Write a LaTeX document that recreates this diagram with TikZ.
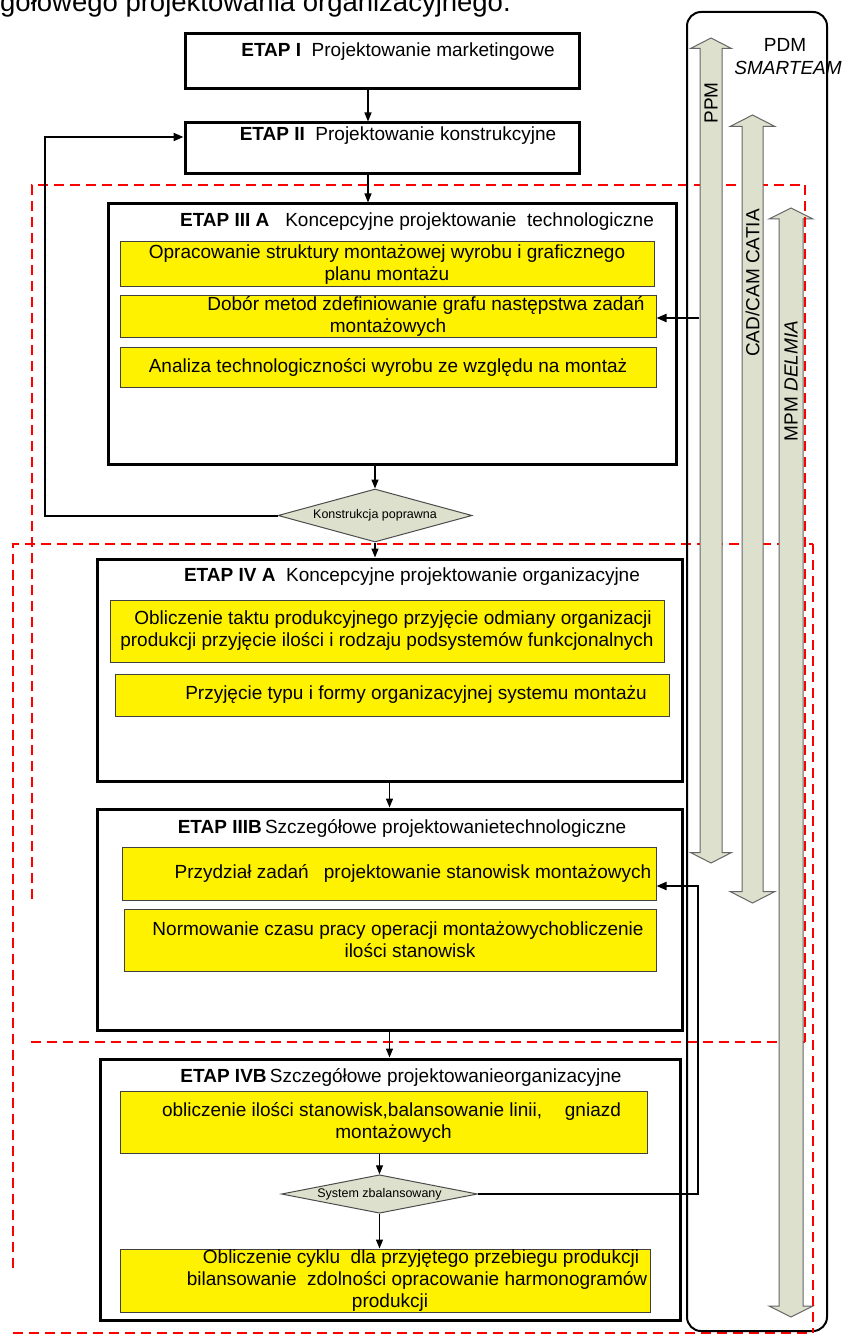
\documentclass[tikz,border=0pt]{standalone}
\usepackage{fontspec}
\setmainfont{Liberation Sans}
\usetikzlibrary{positioning,arrows.meta,shapes.geometric}
\definecolor{sage}{RGB}{221,224,204}
\newcommand{\bodyfont}{\fontsize{19}{22}\selectfont}
\newcommand{\smallfont}{\fontsize{12.5}{14}\selectfont}
\newcommand{\headfont}{\fontsize{27.5}{32}\selectfont}
\newcommand{\toolarrow}[6]{%
  \draw[toolshape] (#1,#4) -- ++(#3,#6) -- ++(#2-#3,0) -- (#1+#2,#5-#6)
    -- ++(#3-#2,0) -- (#1,#5) -- ++(-#3,-#6) -- ++(#3-#2,0)
    -- (#1-#2,#4+#6) -- ++(#2-#3,0) -- cycle;}
\tikzset{
  flowarrow/.style={-{Triangle[length=9pt,width=7pt]}, line width=1.3pt},
  loopline/.style={-{Triangle[length=10pt,width=8pt]}, line width=2pt},
  etapbox/.style={draw, line width=3pt, fill=white, inner sep=0pt},
  etaptitle/.style={font=\bodyfont, inner sep=0pt},
  taskbox/.style={draw=black!75, line width=1pt, fill=yellow, inner sep=0pt, align=center, font=\bodyfont},
  decisionnode/.style={diamond, draw=black!70, line width=1pt, fill=sage, inner sep=1pt, font=\smallfont},
  stagefence/.style={red, dash pattern=on 10pt off 6pt, line width=2pt},
  pdmbox/.style={draw, line width=2pt, rounded corners=14pt},
  toolshape/.style={draw=black!60, line width=1pt, fill=sage},
  toollabel/.style={font=\bodyfont, rotate=90, inner sep=0pt}
}

\begin{document}
\begin{tikzpicture}[x=1pt, y=-1pt, every node/.style={font=\bodyfont}]
  \clip (0,0) rectangle (844,1337);
  \fill[white] (0,0) rectangle (844,1337);
  \node[font=\headfont, anchor=base west, inner sep=0pt] (heading) at (0,12) {gółowego projektowania organizacyjnego.};

  \draw[stagefence] (32,899) -- (32,185) -- (805,185);
  \draw[stagefence] (13,1268) -- (13,544) -- (813,544);
  \draw[stagefence] (31,1042) -- (805,1042);
  \draw[stagefence] (13,1333) -- (813,1333);

  \node[pdmbox, minimum width=140pt, minimum height=1319pt] (pdm) at (757,671.5) {};
  \toolarrow{711}{11}{20.5}{38}{863}{10.5}
  \toolarrow{752.5}{10.5}{22.5}{115}{903}{11.5}
  \toolarrow{791}{12}{22}{208}{1317}{11}
  \draw[stagefence] (805,185) -- (805,1042);
  \draw[stagefence] (813,544) -- (813,1333);

  \node[toollabel] (ppmlabel) at (711,103) {PPM};
  \node[toollabel] (cadlabel) at (752.5,283) {CAD/CAM CATIA};
  \node[toollabel] (mpmlabel) at (791,381) {MPM \textit{DELMIA}};
  \node (pdmlabel) at (785,45) {PDM};
  \node[font=\bodyfont\itshape] (smartlabel) at (788,68) {SMARTEAM};

  \node[etapbox, minimum width=394pt, minimum height=55pt] (e1) at (382,61.5) {};
  \node[etaptitle] (e1title) at (398,52) {\textbf{ETAP I}\ \ Projektowanie marketingowe};
  \node[etapbox, minimum width=394pt, minimum height=51pt] (e2) at (382,148.5) {};
  \node[etaptitle] (e2title) at (398,136) {\textbf{ETAP II}\ \ Projektowanie konstrukcyjne};

  \node[etapbox, minimum width=568pt, minimum height=260pt] (e3a) at (392,334) {};
  \node[etaptitle] (e3atitle) at (417,222) {\textbf{ETAP III A}\ \ \ Koncepcyjne projektowanie\ \ technologiczne};
  \node[taskbox, minimum width=534pt, minimum height=45pt] (y1) at (387,264.5) {Opracowanie struktury montażowej wyrobu i graficznego\\planu montażu};
  \node[taskbox, minimum width=536pt, minimum height=41pt] (y2) at (388,316.5) {\hspace*{76pt}Dobór metod zdefiniowanie grafu następstwa zadań\\montażowych};
  \node[taskbox, minimum width=536pt, minimum height=40pt] (y3) at (388,367) {Analiza technologiczności wyrobu ze względu na montaż};
  \node[decisionnode, aspect=3.7, minimum width=194pt, minimum height=53pt] (d1) at (375,515.5) {Konstrukcja poprawna};

  \node[etapbox, minimum width=585pt, minimum height=222pt] (e4a) at (389.5,670) {};
  \node[etaptitle] (e4atitle) at (412,577) {\textbf{ETAP IV A}\ \ Koncepcyjne projektowanie organizacyjne};
  \node[taskbox, minimum width=554pt, minimum height=62pt] (y4) at (387,631) {\hspace*{12pt}Obliczenie taktu produkcyjnego przyjęcie odmiany organizacji\\produkcji przyjęcie ilości i rodzaju podsystemów funkcjonalnych};
  \node[taskbox, minimum width=554pt, minimum height=42pt] (y5) at (392,695) {\hspace*{48pt}Przyjęcie typu i formy organizacyjnej systemu montażu};

  \node[etapbox, minimum width=585pt, minimum height=221pt] (e3b) at (389.5,919.5) {};
  \node[etaptitle] (e3btitle) at (402,828) {\textbf{ETAP IIIB}\,Szczegółowe projektowanietechnologiczne};
  \node[taskbox, minimum width=534pt, minimum height=53pt] (y6) at (389,873.5) {\hspace*{48pt}Przydział zadań\hspace{0.8em}projektowanie stanowisk montażowych};
  \node[taskbox, minimum width=532pt, minimum height=62pt] (y7) at (390,940) {\hspace*{16pt}Normowanie czasu pracy operacji montażowychobliczenie\\\hspace*{40pt}ilości stanowisk};

  \node[etapbox, minimum width=580pt, minimum height=261pt] (e4b) at (390,1189.5) {};
  \node[etaptitle] (e4btitle) at (401,1077) {\textbf{ETAP IVB}\,Szczegółowe projektowanieorganizacyjne};
  \node[taskbox, minimum width=527pt, minimum height=62pt] (y8) at (383.5,1122) {\hspace*{16pt}obliczenie ilości stanowisk,balansowanie linii,\hspace{1.2em}gniazd\\\hspace*{20pt}montażowych};
  \node[decisionnode, aspect=5.1, minimum width=195pt, minimum height=38pt] (d2) at (379.5,1194) {System zbalansowany};
  \node[taskbox, minimum width=530pt, minimum height=63pt] (y9) at (385,1280.5) {\hspace*{72pt}Obliczenie cyklu\ \ dla przyjętego przebiegu produkcji\\\hspace*{64pt}bilansowanie\ \ zdolności opracowanie harmonogramów\\\hspace*{10pt}produkcji};

  \coordinate (looptop) at (45,137);
  \coordinate (ppmtap) at (699,318);
  \coordinate (balturn) at (698,886);

  \draw[flowarrow] ([xshift=-14pt]e1.south) -- ([xshift=-14pt]e2.north);
  \draw[flowarrow] ([xshift=-14pt]e2.south) -- ([xshift=-14pt]e2.south |- e3a.north);
  \draw[flowarrow] (e3a.south -| d1.north) -- (d1.north);
  \draw[flowarrow] (d1.south) -- (d1.south |- e4a.north);
  \draw[flowarrow] (e4a.south) -- (e3b.north);
  \draw[flowarrow] (e3b.south) -- (e3b.south |- e4b.north);
  \draw[flowarrow] (y8.south -| d2.north) -- (d2.north);
  \draw[flowarrow] (d2.south) -- (d2.south |- y9.north);
  \draw[loopline] (d1.west) -| (looptop) -- (looptop -| e2.west);
  \draw[loopline] (ppmtap) -- (ppmtap -| y2.east);
  \draw[loopline] (d2.east) -| (balturn) -- (balturn -| y6.east);
\end{tikzpicture}
\end{document}
